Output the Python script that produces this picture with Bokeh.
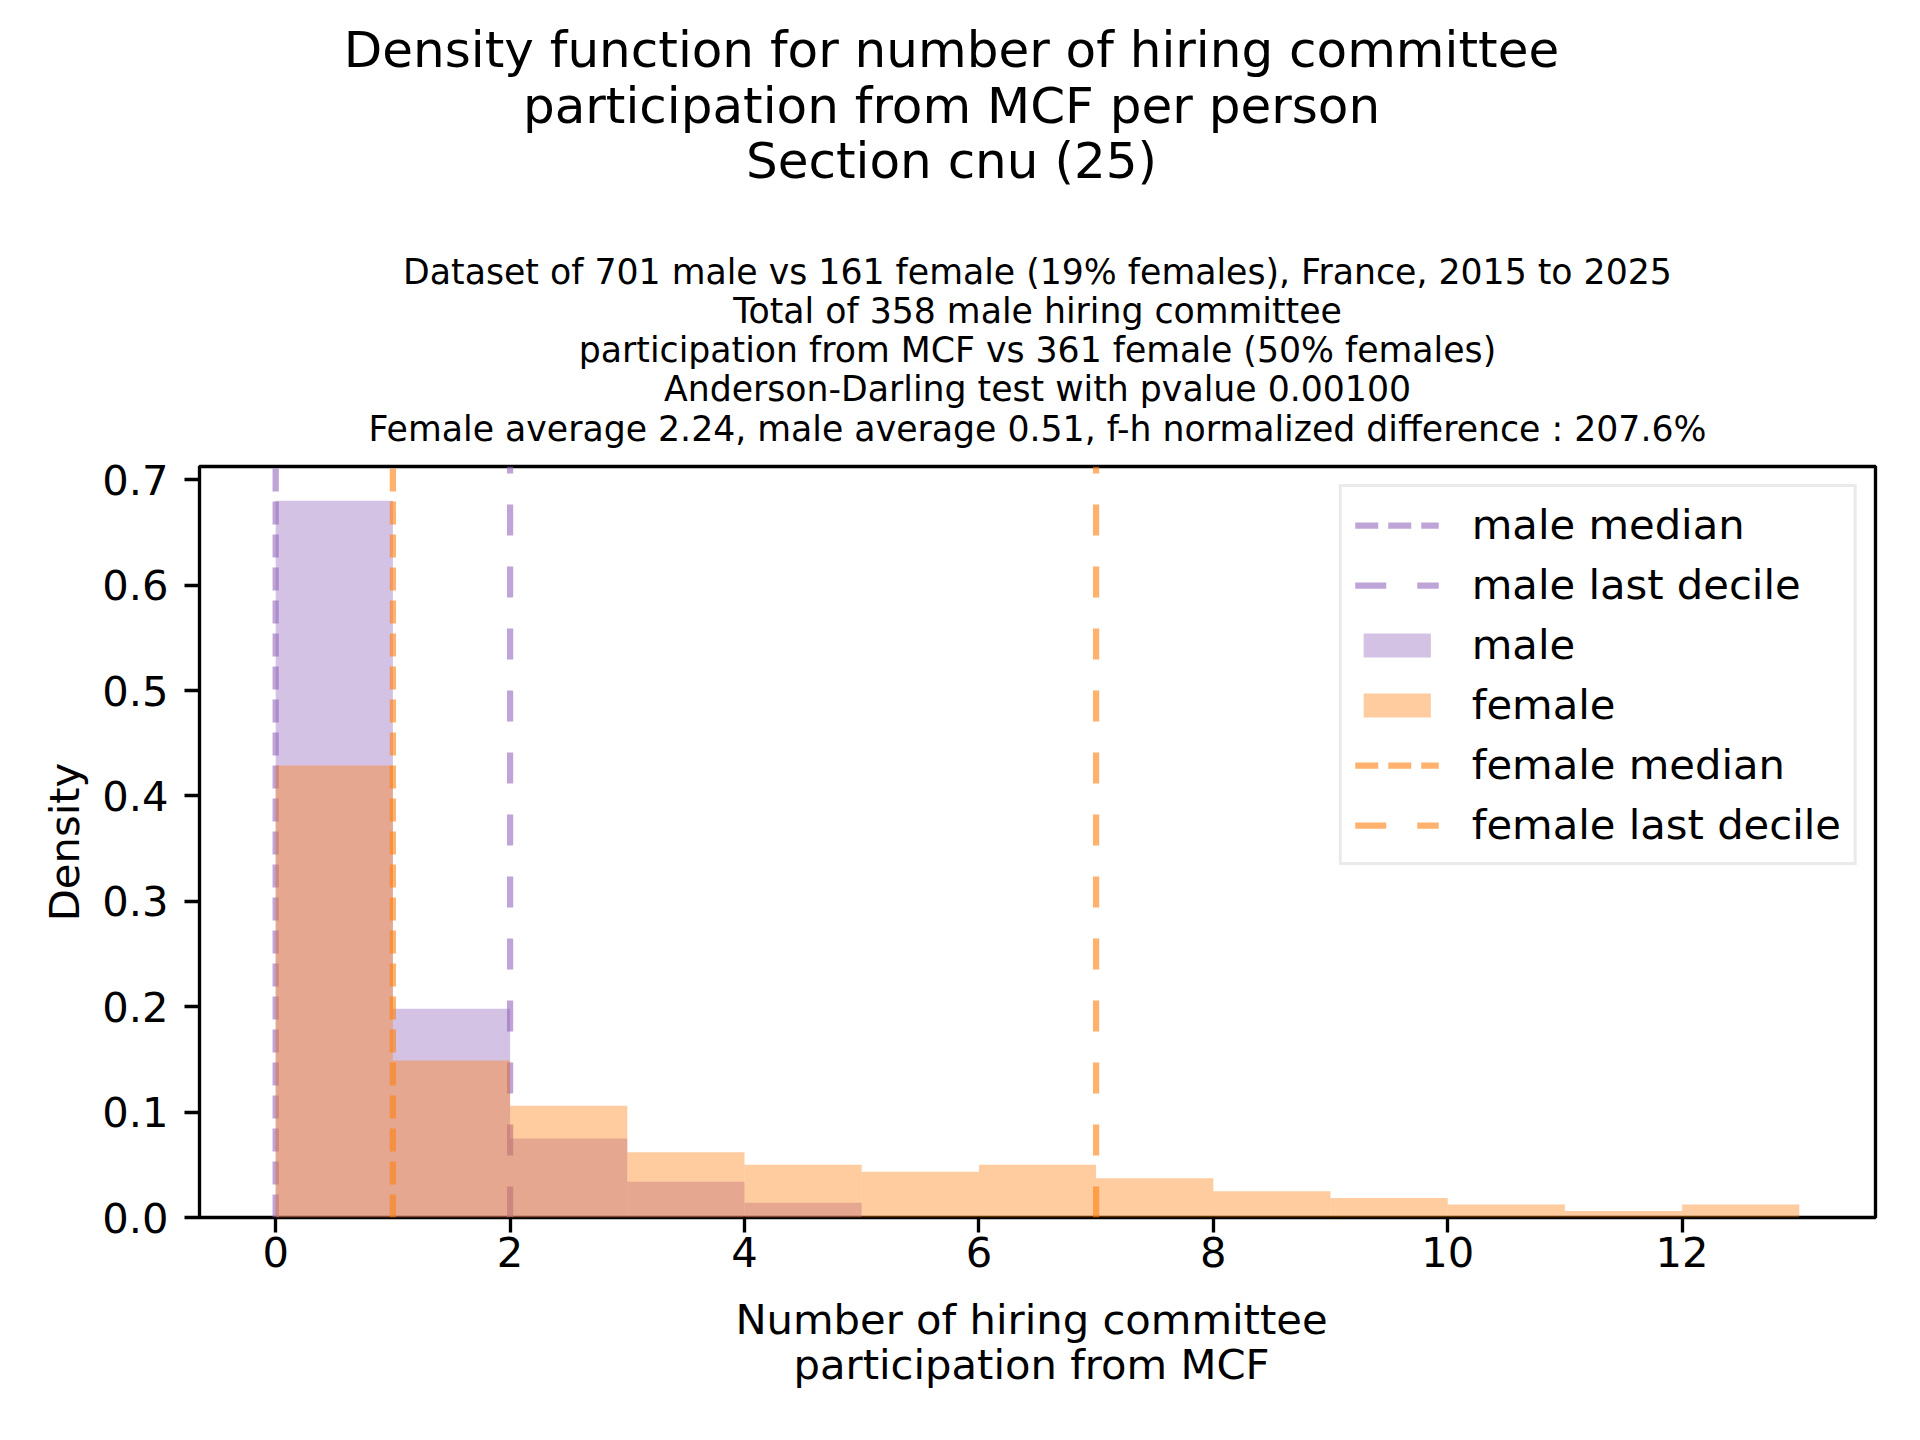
import math
from bokeh.plotting import figure
from bokeh.layouts import column
from bokeh.models import Range1d, FixedTicker, PrintfTickFormatter, Label
from bokeh.embed import file_html
from bokeh.resources import INLINE

# ---------------- data ----------------
male_bin_edges = [0, 1, 2, 3, 4, 5]
male_density = [0.680, 0.198, 0.075, 0.034, 0.014]

female_bin_edges = [0, 1, 2, 3, 4, 5, 6, 7, 8, 9, 10, 11, 12, 13]
female_density = [0.429, 0.149, 0.106, 0.062, 0.050, 0.0435, 0.050,
                  0.0373, 0.0248, 0.0186, 0.0124, 0.0062, 0.0124]

male_median = 0
male_last_decile = 2
female_median = 1
female_last_decile = 7

x_ticks = [0, 2, 4, 6, 8, 10, 12]
y_ticks = [0.0, 0.1, 0.2, 0.3, 0.4, 0.5, 0.6, 0.7]

suptitle_lines = ["Density function for number of hiring committee",
                  "participation from MCF per person",
                  "Section cnu (25)"]
subtitle_lines = ["Dataset of 701 male vs 161 female (19% females), France, 2015 to 2025",
                  "Total of 358 male hiring committee",
                  "participation from MCF vs 361 female (50% females)",
                  "Anderson-Darling test with pvalue 0.00100",
                  "Female average 2.24, male average 0.51, f-h normalized difference : 207.6%"]
xlabel_lines = ["Number of hiring committee", "participation from MCF"]
ylabel = "Density"

# ---------------- layout (pixels) ----------------
W = 1904
HEAD_H = 453
FL, FT, FW, FH = 199, 466, 1676, 751
FR = W - FL - FW
MAIN_BOTTOM = 1290
TOTAL_H = 1424
X0, X1 = -0.65, 13.65
Y0, Y1 = 0.0, 0.7126
FONT = "DejaVu Sans"
PURPLE = "#9467bd"
ORANGE = "#ff7f0e"
LW = 6.25


def text_fig(height):
    # pixel-coordinate panel with the same horizontal borders as the main plot
    f = figure(width=W, height=height, output_backend="svg", toolbar_location=None,
               title=None,
               x_range=Range1d(FL, FL + FW), y_range=Range1d(0, height),
               x_axis_location=None, y_axis_location=None,
               min_border_left=FL, min_border_right=FR,
               min_border_top=0, min_border_bottom=0)
    f.outline_line_color = None
    f.grid.visible = False
    f.background_fill_color = "white"
    f.border_fill_color = "white"
    return f


def add_label(f, height, x, baseline, text, size):
    f.add_layout(Label(x=x, y=height - baseline, text=text, text_align="center",
                       text_baseline="alphabetic", text_font=FONT,
                       text_font_size=size, text_color="black"))


# ---------------- head: titles ----------------
head = text_fig(HEAD_H)
for txt, base in zip(suptitle_lines, [49.9, 105.2, 160.6]):
    add_label(head, HEAD_H, 951, base, txt, "50px")
for txt, base in zip(subtitle_lines, [271.0, 310.2, 349.5, 388.8, 428.8]):
    add_label(head, HEAD_H, FL + FW / 2, base, txt, "34.7px")

# ---------------- main plot ----------------
main_h = MAIN_BOTTOM - HEAD_H
top_border = FT - HEAD_H
p = figure(width=W, height=main_h, output_backend="svg", toolbar_location=None,
           title=None,
           x_range=Range1d(X0, X1), y_range=Range1d(Y0, Y1),
           min_border_left=FL, min_border_top=top_border,
           min_border_right=FR, min_border_bottom=main_h - top_border - FH)
p.background_fill_color = "white"
p.border_fill_color = "white"
p.outline_line_color = "black"
p.outline_line_width = 3.33
p.grid.visible = False

p.segment(x0=[male_median], y0=[Y0], x1=[male_median], y1=[Y1],
          line_color=PURPLE, line_alpha=0.6, line_width=LW, line_dash="23 10",
          legend_label="male median")
p.segment(x0=[male_last_decile], y0=[Y0], x1=[male_last_decile], y1=[Y1],
          line_color=PURPLE, line_alpha=0.6, line_width=LW, line_dash="31 31",
          legend_label="male last decile")
p.quad(left=male_bin_edges[:-1], right=male_bin_edges[1:], bottom=0, top=male_density,
       fill_color=PURPLE, fill_alpha=0.4, line_color=None, legend_label="male")
p.quad(left=female_bin_edges[:-1], right=female_bin_edges[1:], bottom=0, top=female_density,
       fill_color=ORANGE, fill_alpha=0.4, line_color=None, legend_label="female")
p.segment(x0=[female_median], y0=[Y0], x1=[female_median], y1=[Y1],
          line_color=ORANGE, line_alpha=0.6, line_width=LW, line_dash="23 10",
          legend_label="female median")
p.segment(x0=[female_last_decile], y0=[Y0], x1=[female_last_decile], y1=[Y1],
          line_color=ORANGE, line_alpha=0.6, line_width=LW, line_dash="31 31",
          legend_label="female last decile")

p.xaxis.ticker = FixedTicker(ticks=x_ticks)
p.yaxis.ticker = FixedTicker(ticks=y_ticks)
p.xaxis.formatter = PrintfTickFormatter(format="%d")
p.yaxis.formatter = PrintfTickFormatter(format="%.1f")
for ax in (p.xaxis[0], p.yaxis[0]):
    ax.axis_line_color = None
    ax.major_tick_line_color = "black"
    ax.major_tick_line_width = 3.33
    ax.major_tick_out = 15
    ax.major_tick_in = 0
    ax.minor_tick_line_color = None
    ax.major_label_text_font = FONT
    ax.major_label_text_font_size = "41.7px"
    ax.major_label_text_color = "black"
p.xaxis.major_label_standoff = 4
p.yaxis.major_label_standoff = 16
p.yaxis.axis_label = ylabel
p.yaxis.axis_label_text_font = FONT
p.yaxis.axis_label_text_font_size = "41.7px"
p.yaxis.axis_label_text_font_style = "normal"
p.yaxis.axis_label_text_color = "black"
p.yaxis.axis_label_standoff = 10

lg = p.legend[0]
lg.location = "top_right"
lg.margin = 18
lg.padding = 13
lg.spacing = 11
lg.glyph_width = 84
lg.glyph_height = 30
lg.label_height = 30
lg.label_standoff = 33
lg.label_text_font = FONT
lg.label_text_font_size = "41.7px"
lg.label_text_color = "black"
lg.border_line_color = "#d6d6d6"
lg.border_line_width = 3.33
lg.background_fill_color = "white"
lg.background_fill_alpha = 0.8

# ---------------- foot: x axis label ----------------
FOOT_H = TOTAL_H - MAIN_BOTTOM
foot = text_fig(FOOT_H)
for txt, base in zip(xlabel_lines, [1319.3, 1364.3]):
    add_label(foot, FOOT_H, 1031, base - MAIN_BOTTOM, txt, "41.7px")

layout = column(head, p, foot, spacing=0)
open("out.html", "w").write(file_html(layout, INLINE))
